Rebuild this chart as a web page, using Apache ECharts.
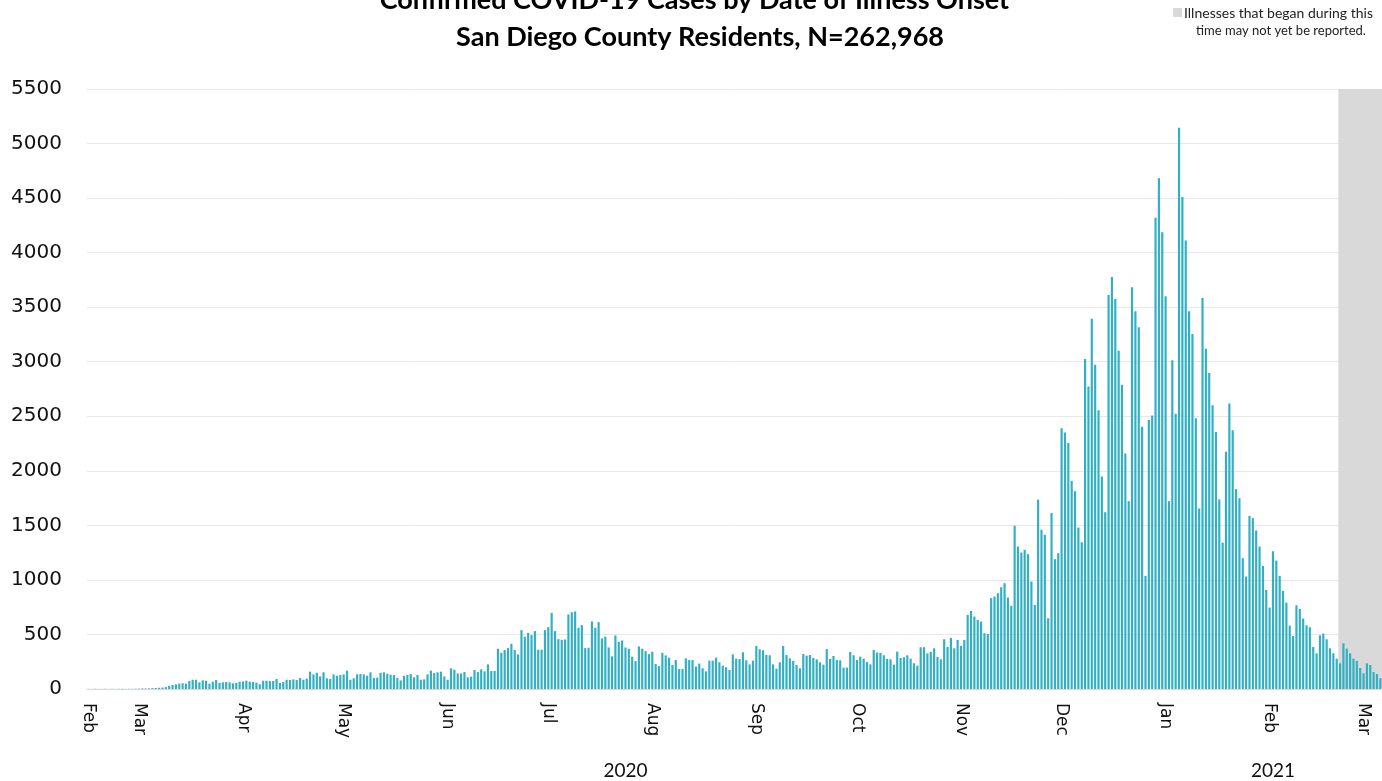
<!DOCTYPE html>
<html>
<head>
<meta charset="utf-8">
<script src="https://cdn.jsdelivr.net/npm/echarts@6/dist/echarts.min.js"></script>
<style>
html,body{margin:0;padding:0;background:#fff;}
#chart{width:1382px;height:781px;}
</style>
</head>
<body>
<div id="chart"></div>
<script>
// ---- data ----
const titleLine1 = 'Confirmed COVID-19 Cases by Date of Illness Onset';
const titleLine2 = 'San Diego County Residents, N=262,968';
const legendLine1 = 'Illnesses that began during this';
const legendLine2 = 'time may not yet be reported.';
const monthNames = ['Jan','Feb','Mar','Apr','May','Jun','Jul','Aug','Sep','Oct','Nov','Dec'];
const startDate = '2020-02-15';
const dayCount = 386;
const shadedFromDate = '2021-02-22';
const yMax = 5500;
const yStep = 500;

// daily confirmed cases by illness onset date, Feb 15 2020 .. Mar 6 2021
const cases = [
  1,1,2,1,1,2,1,2,1,2,2,1,2,2,3,
  4,5,5,6,8,9,11,13,18,
  30,37,43,49,52,49,73,85,85,61,79,76,49,67,82,
  55,61,64,61,52,55,67,70,76,67,64,58,43,
  76,76,73,73,92,55,64,85,82,88,82,101,85,95,
  159,134,149,116,153,98,92,134,122,128,134,168,
  85,98,134,137,134,122,153,101,104,149,153,140,131,128,
  101,79,122,128,137,107,128,85,88,134,168,146,153,159,116,85,189,177,
  143,143,155,107,113,174,155,180,162,226,165,165,
  369,332,357,375,415,357,317,540,479,515,494,531,
  360,360,540,567,698,531,457,451,454,683,704,711,
  561,586,375,378,619,561,613,464,479,381,299,491,
  433,445,381,369,296,256,390,369,348,320,342,229,
  210,332,308,287,220,265,183,183,281,265,265,
  205,233,190,162,260,260,288,245,214,199,
  174,318,278,275,337,263,226,260,395,364,
  355,312,309,226,187,245,395,312,281,257,
  220,190,321,306,312,285,272,245,223,367,
  275,303,266,263,196,196,340,309,266,297,
  278,248,226,358,334,330,309,275,272,223,
  343,285,291,309,278,236,214,383,383,327,
  340,373,294,272,456,386,468,
  373,450,395,450,679,716,664,633,618,511,505,
  833,848,878,933,970,838,762,1496,1306,1251,1276,
  1236,985,771,1735,1460,1414,649,1613,1190,1245,
  2391,2352,2254,1908,1813,1480,1346,3024,2774,3394,
  2972,2556,1948,1621,3611,3777,3575,3101,2789,2159,
  1722,3682,3462,3315,2404,1037,2465,2508,
  4319,4682,4188,3601,1722,3014,2524,5145,4510,4111,3463,3255,
  2483,1655,3584,3118,2896,2601,2356,1738,1342,2175,2618,2373,
  1832,1749,1199,1031,1587,1566,1453,1306,1128,908,
  746,1263,1177,1037,899,792,581,486,768,734,
  645,584,566,385,327,492,508,456,373,327,
  278,235,419,370,327,278,257,193,144,235,
  220,156,138,98
];

// ---- categories (one per day) ----
const dates = [];
{
  const d0 = new Date(startDate + 'T00:00:00Z');
  for (let i = 0; i <= dayCount; i++) {
    const d = new Date(d0.getTime() + i * 86400000);
    dates.push(d.toISOString().slice(0, 10));
  }
}
// day boundaries (start of each day, plus the end of the last day)
const dayEdges = dates.slice();
dates.length = dayCount;
// shaded "not yet reported" period: full-height area from shadedFromDate to the end
const shadedBand = dayEdges.map(d => (d >= shadedFromDate ? yMax : null));

// year label at the middle of each year's span
const yearMid = {};
{
  const spans = {};
  dates.forEach((d, i) => {
    const y = d.slice(0, 4);
    if (!spans[y]) spans[y] = [i, i]; else spans[y][1] = i;
  });
  Object.keys(spans).forEach(y => { yearMid[Math.round((spans[y][0] + spans[y][1]) / 2)] = y; });
}

const chart = echarts.init(document.getElementById('chart'));
const titleFont = 'Lato, "Open Sans", sans-serif';
const axisFont = '"DejaVu Sans", Verdana, sans-serif';

chart.setOption({
  animation: false,
  backgroundColor: '#ffffff',
  grid: { left: 87, right: 0, top: 89, bottom: 92, containLabel: false },
  xAxis: [
    {
      type: 'category',
      data: dates,
      boundaryGap: true,
      axisLine: { show: true, lineStyle: { color: '#d9d9d9', width: 1 } },
      axisTick: { show: false },
      splitLine: { show: false },
      axisLabel: {
        interval: (i, v) => i === 0 || v.slice(8) === '01',
        formatter: v => monthNames[parseInt(v.slice(5, 7), 10) - 1],
        rotate: -90,
        margin: 14,
        fontFamily: axisFont,
        fontSize: 17,
        color: '#111'
      },
      z: 5
    },
    {
      type: 'category',
      data: dates,
      position: 'bottom',
      boundaryGap: true,
      axisLine: { show: false },
      axisTick: { show: false },
      splitLine: { show: false },
      axisLabel: {
        interval: (i) => yearMid[i] !== undefined,
        formatter: v => v.slice(0, 4),
        margin: 72,
        fontFamily: titleFont,
        fontSize: 19,
        color: '#111'
      }
    },
    {
      type: 'category',
      data: dayEdges,
      position: 'bottom',
      boundaryGap: false,
      show: false
    }
  ],
  yAxis: [
    {
      type: 'value',
      min: 0,
      max: yMax,
      interval: yStep,
      axisLine: { show: false },
      axisTick: { show: false },
      splitLine: { show: true, lineStyle: { color: '#e8e8e8', width: 1 } },
      axisLabel: {
        margin: 25,
        formatter: v => String(v),
        fontFamily: axisFont,
        fontSize: 20,
        color: '#111'
      }
    },
    {
      type: 'value',
      min: 0,
      max: yMax,
      show: false,
      splitLine: { show: false }
    }
  ],
  series: [
    {
      type: 'line',
      name: 'shaded',
      xAxisIndex: 2,
      yAxisIndex: 1,
      data: shadedBand,
      showSymbol: false,
      symbol: 'none',
      connectNulls: false,
      lineStyle: { width: 0, color: '#d9d9d9' },
      areaStyle: { color: '#d9d9d9', opacity: 1 },
      silent: true,
      z: 1
    },
    {
      type: 'bar',
      name: 'cases',
      xAxisIndex: 0,
      yAxisIndex: 0,
      data: cases,
      barCategoryGap: '35%',
      itemStyle: { color: '#31b0c4' },
      z: 3
    }
  ],
  graphic: [
    {
      type: 'text',
      x: 697, y: 0,
      style: {
        text: titleLine1 + '{s|*}',
        fill: '#000',
        font: 'bold 27px ' + titleFont,
        textAlign: 'center',
        textVerticalAlign: 'middle',
        rich: { s: { fontSize: 12, fontWeight: 'normal', verticalAlign: 'top', fontFamily: 'Lato', fill: '#000' } }
      }
    },
    {
      type: 'text',
      x: 700, y: 37,
      style: {
        text: titleLine2,
        fill: '#000',
        font: 'bold 27px ' + titleFont,
        textAlign: 'center',
        textVerticalAlign: 'middle'
      }
    },
    {
      type: 'rect',
      shape: { x: 1173, y: 8, width: 9, height: 9 },
      style: { fill: '#d9d9d9' }
    },
    {
      type: 'text',
      x: 1184, y: 13,
      style: {
        text: legendLine1,
        fill: '#222',
        font: '14px ' + titleFont,
        textAlign: 'left',
        textVerticalAlign: 'middle'
      }
    },
    {
      type: 'text',
      x: 1281, y: 31,
      style: {
        text: legendLine2,
        fill: '#222',
        font: '13px ' + titleFont,
        textAlign: 'center',
        textVerticalAlign: 'middle'
      }
    }
  ]
});
</script>
</body>
</html>
